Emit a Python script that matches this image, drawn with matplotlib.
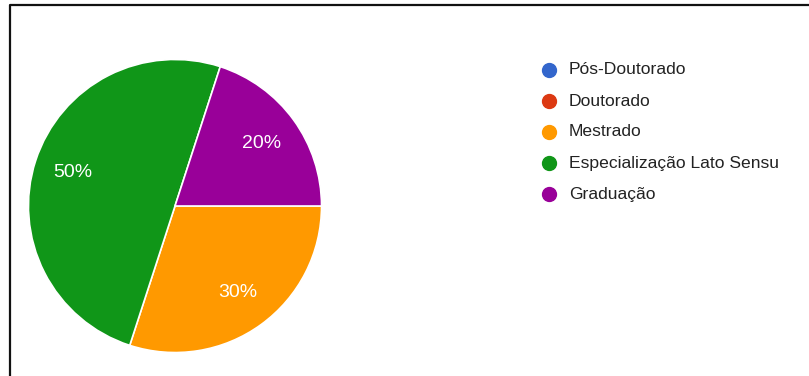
import matplotlib.pyplot as plt
from matplotlib.lines import Line2D

plt.rcParams['font.family'] = ['Liberation Sans', 'DejaVu Sans']

# categorias na ordem da legenda
categorias = ['Pós-Doutorado', 'Doutorado', 'Mestrado',
              'Especialização Lato Sensu', 'Graduação']
percentuais = [0, 0, 30, 50, 20]
cores = ['#3366cc', '#dc3912', '#ff9900', '#109618', '#990099']

W, H = 809, 376
fig = plt.figure(figsize=(W / 100, H / 100), dpi=100)

# pizza: so as fatias com valor
fatias = [(p, c) for p, c in zip(percentuais, cores) if p > 0]
cx, cy, r = 175, 206, 148
ax = fig.add_axes([(cx - r) / W, (H - cy - r) / H, 2 * r / W, 2 * r / H])
wedges, textos, autotextos = ax.pie(
    [p for p, c in fatias], colors=[c for p, c in fatias],
    startangle=0, counterclock=False, radius=1,
    autopct='%1.0f%%', pctdistance=0.73,
    wedgeprops=dict(edgecolor='white', linewidth=1.2),
    textprops=dict(color='white', fontsize=14))
ax.set_xlim(-1.01, 1.01)
ax.set_ylim(-1.01, 1.01)
ax.set_aspect('equal')

# legenda desenhada na mao
x_mark, x_txt, y0, passo = 549, 569, 70, 31
for i, (nome, cor) in enumerate(zip(categorias, cores)):
    y = y0 + i * passo
    fig.add_artist(Line2D([x_mark / W], [1 - y / H], marker='o', markersize=10,
                          color=cor, markeredgecolor=cor, linestyle='none',
                          transform=fig.transFigure))
    fig.text(x_txt / W, 1 - y / H, nome, fontsize=12.6, color='#222222',
             va='center', ha='left')

# moldura: so esquerda e topo
fig.add_artist(Line2D([9.5 / W, 9.5 / W, 1], [0, 1 - 5 / H, 1 - 5 / H],
                      color='#111111', linewidth=1.6, transform=fig.transFigure))

fig.savefig('out.png', dpi=100)
